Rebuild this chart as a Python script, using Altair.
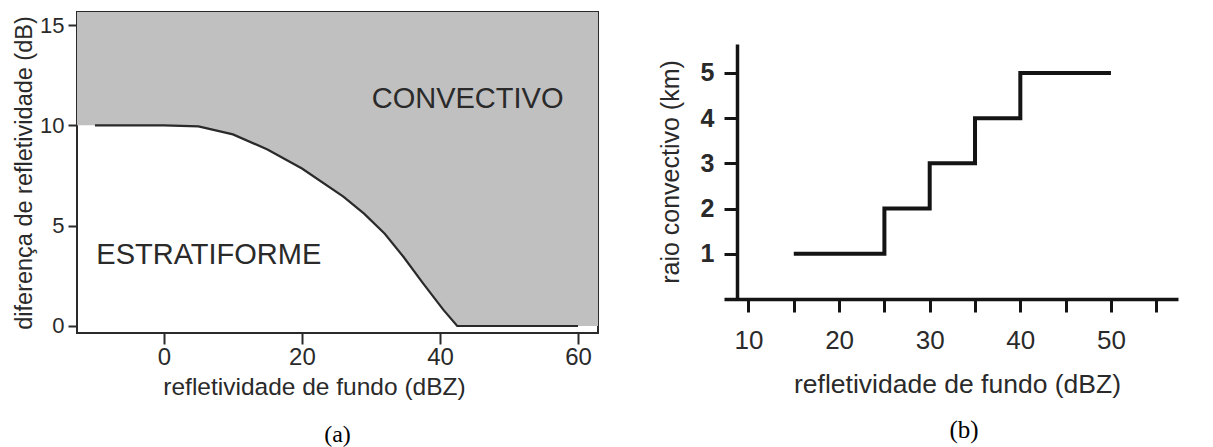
import altair as alt
import pandas as pd

# ---------------- Panel (a) data ----------------
curve_x = [-10, 0, 5, 10, 15, 20, 26, 29, 32, 34.7, 37.5, 40.5, 42.5, 60]
curve_y = [10, 10, 9.95, 9.55, 8.8, 7.85, 6.45, 5.6, 4.6, 3.45, 2.15, 0.8, 0, 0]
fill_x = [-20] + curve_x + [75]
fill_y = [10] + curve_y + [0]
region_labels = ["CONVECTIVO", "ESTRATIFORME"]
region_x = [44.0, 6.5]
region_y = [11.3, 3.55]
a_xticks = [0, 20, 40, 60]
a_yticks = [0, 5, 10, 15]

# ---------------- Panel (b) data ----------------
step_x = [15, 25, 30, 35, 40, 50]
step_y = [1, 2, 3, 4, 5, 5]
b_xticks = [10, 15, 20, 25, 30, 35, 40, 45, 50, 55]
b_yticks = [1, 2, 3, 4, 5]

FONT = "Liberation Sans"
SERIF = "Liberation Serif"
INK = "#2a2a2a"
DARK = "#141414"

curve_df = pd.DataFrame({"x": curve_x, "y": curve_y})
fill_df = pd.DataFrame({"x": fill_x, "y": fill_y})
lab_df = pd.DataFrame({"t": region_labels, "x": region_x, "y": region_y})
step_df = pd.DataFrame({"x": step_x, "y": step_y})

# ---------------- Panel (a) ----------------
xa_scale = alt.Scale(domain=[-12.6, 62.9], nice=False, zero=False)
ya_scale = alt.Scale(domain=[-0.35, 15.65], nice=False, zero=False)

xa_axis = alt.Axis(title="refletividade de fundo (dBZ)", values=a_xticks, grid=False,
                   domain=False, tickSize=11, tickWidth=2, tickColor=INK,
                   labelFont=FONT, labelFontSize=24, labelColor=INK, labelPadding=1,
                   labelFlush=False,
                   titleFont=FONT, titleFontSize=24.5, titleFontWeight="normal",
                   titleColor=INK, titlePadding=6, titleX=237, titleAlign="center")
ya_axis = alt.Axis(title="diferença de refletividade (dB)", values=a_yticks, grid=False,
                   domain=False, tickSize=9, tickWidth=2, tickColor=INK,
                   labelFont=FONT, labelFontSize=22, labelColor=INK, labelPadding=4,
                   titleFont=FONT, titleFontSize=23.5, titleFontWeight="normal",
                   titleColor=INK, titlePadding=3)

fill = alt.Chart(fill_df).mark_area(color="#c0c0c0", clip=True).encode(
    x=alt.X("x:Q", scale=xa_scale, axis=xa_axis),
    y=alt.Y("y:Q", scale=ya_scale, axis=ya_axis),
    y2=alt.datum(25),
)
line = alt.Chart(curve_df).mark_line(color=INK, strokeWidth=2.2).encode(
    x=alt.X("x:Q", scale=xa_scale),
    y=alt.Y("y:Q", scale=ya_scale),
)
texts = alt.Chart(lab_df).mark_text(font=FONT, fontSize=29, color=INK).encode(
    x=alt.X("x:Q", scale=xa_scale),
    y=alt.Y("y:Q", scale=ya_scale),
    text="t:N",
)

panel_a = alt.layer(fill, line, texts).properties(
    width=521, height=321,
    view=alt.ViewBackground(stroke=INK, strokeWidth=2),
    title=alt.TitleParams("(a)", orient="bottom", anchor="middle", frame="group",
                          font=SERIF, fontSize=24, fontWeight="normal", color="#000",
                          offset=24, dx=0),
)

# ---------------- Panel (b) ----------------
xb_axis = alt.Axis(title="refletividade de fundo (dBZ)", values=b_xticks,
                   labelExpr="datum.value % 10 == 0 ? datum.label : ''",
                   grid=False, domain=True, domainWidth=3.5, domainColor=DARK,
                   tickSize=13, tickWidth=3, tickColor=DARK,
                   labelFont=FONT, labelFontSize=26, labelColor=INK, labelPadding=15,
                   labelFlush=False, labelOverlap=False,
                   titleFont=FONT, titleFontSize=26.5, titleFontWeight="normal",
                   titleColor=INK, titlePadding=18, titleX=233, titleAlign="center")
yb_axis = alt.Axis(title="raio convectivo (km)", values=b_yticks, offset=-13,
                   grid=False, domain=True, domainWidth=3.5, domainColor=DARK,
                   tickSize=13, tickWidth=3, tickColor=DARK,
                   labelFont=FONT, labelFontSize=25, labelColor=INK, labelPadding=10,
                   labelFontWeight="bold",
                   titleFont=FONT, titleFontSize=25, titleFontWeight="normal",
                   titleColor=INK, titlePadding=17)

panel_b = alt.Chart(step_df).mark_line(interpolate="step-after", color=DARK,
                                       strokeWidth=4).encode(
    x=alt.X("x:Q", scale=alt.Scale(domain=[7.3, 57.4], nice=False, zero=False), axis=xb_axis),
    y=alt.Y("y:Q", scale=alt.Scale(domain=[0, 5.64], range=[287, 32], nice=False, zero=False),
            axis=yb_axis),
).properties(
    width=454, height=287,
    view=alt.ViewBackground(stroke="transparent"),
    title=alt.TitleParams("(b)", orient="bottom", anchor="middle", frame="group",
                          font=SERIF, fontSize=25, fontWeight="normal", color="#000",
                          offset=20, dx=13),
)

chart = alt.hconcat(panel_a, panel_b, spacing=58).properties(
    padding={"left": 3, "top": 3, "right": 0, "bottom": 0},
    background="white",
)

chart.save("out.html", embed_options={"renderer": "svg", "actions": False})
